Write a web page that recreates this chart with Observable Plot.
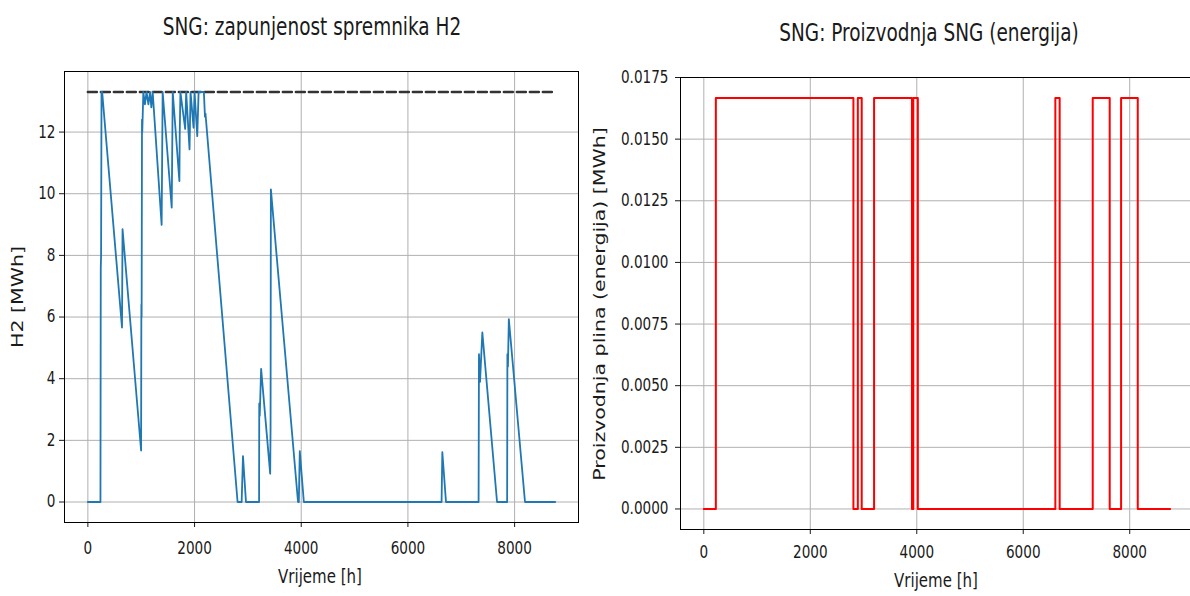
<!DOCTYPE html>
<html><head><meta charset="utf-8">
<script src="https://cdn.jsdelivr.net/npm/d3@7"></script>
<script src="https://cdn.jsdelivr.net/npm/@observablehq/plot@0.6"></script>
<style>
body{margin:0;background:#fff;overflow:hidden;width:1190px;height:596px;position:relative;font-family:"DejaVu Sans",sans-serif;color:#1a1a1a}
.abs{position:absolute;white-space:nowrap;line-height:1}
.t{font-size:24px;transform:translate(-50%,-50%) scaleX(0.77)}
.lab{font-size:20px;transform:translate(-50%,-50%) scaleX(0.75)}
.rot{font-size:20.5px;transform:translate(-50%,-50%) rotate(-90deg) scaleY(0.73)}
</style></head><body>
<div id="left" class="abs" style="left:0;top:0"></div>
<div id="right" class="abs" style="left:590px;top:0"></div>
<div class="abs t" style="left:312px;top:27px">SNG: zapunjenost spremnika H2</div>
<div class="abs t" style="left:929px;top:33px">SNG: Proizvodnja SNG (energija)</div>
<div class="abs lab" style="left:320px;top:576px">Vrijeme [h]</div>
<div class="abs lab" style="left:936px;top:580px">Vrijeme [h]</div>
<div class="abs rot" style="left:18px;top:297px">H2 [MWh]</div>
<div class="abs rot" style="left:600px;top:304px">Proizvodnja plina (energija) [MWh]</div>
<script>
// Left: H2 storage level
const h2Hours  = [0,236,242,248,256,268,640,650,998,1003,1008,1015,1020,1040,1070,1100,1135,1165,1190,1215,1383,1402,1572,1591,1716,1722,1735,1824,1843,1906,1925,1981,2000,2051,2076,2158,2175,2195,2205,2807,2883,2908,2964,3210,3213,3222,3248,3418,3425,3431,3940,3955,3973,4049,6631,6645,6714,7325,7332,7352,7395,7671,7860,7865,7875,7892,8195,8760];
const h2Values = [0,0,7.6,8.0,13.3,13.3,5.66,8.85,1.67,6.4,6.0,12.4,12.0,13.3,12.9,13.3,12.9,13.3,12.8,13.3,8.99,13.3,9.55,13.3,10.41,11.9,13.3,12.1,13.3,11.44,13.3,12.14,13.3,11.87,13.3,13.3,13.3,12.5,12.6,0,0,1.49,0,0,3.2,2.8,4.32,0.92,2.4,10.14,0,0,1.65,0,0,1.62,0,0,4.8,3.9,5.5,0,0,4.8,4.4,5.93,0,0];
const h2Capacity = 13.3;
const capacityHours = [0, 8760];
// Right: SNG production (step series)
const sngHours  = [0,226,2810,2893,2966,3198,3910,3935,4020,6603,6684,7305,7624,7838,8151,8760];
const sngValues = [0,1/60,0,1/60,0,1/60,0,1/60,0,1/60,0,1/60,0,1/60,0,0];
// Ticks
const xTicks = [0,2000,4000,6000,8000];
const yTicksLeft = [0,2,4,6,8,10,12];
const yTicksRight = [0,0.0025,0.005,0.0075,0.01,0.0125,0.015,0.0175];

const h2 = h2Hours.map((h,i)=>({h, v:h2Values[i]}));
const cap = capacityHours.map(h=>({h, v:h2Capacity}));
const sng = sngHours.map((h,i)=>({h, v:sngValues[i]}));
const fontStyle = {fontFamily:'"DejaVu Sans",sans-serif', fontSize:"17px", color:"#1a1a1a", background:"transparent", overflow:"visible", maxWidth:"none"};
const xDomain = [-438, 9198];

const left = Plot.plot({
  width:600, height:596, marginLeft:64, marginRight:22, marginTop:71, marginBottom:74,
  style: fontStyle,
  x:{domain:xDomain, ticks:xTicks, tickSize:5, tickPadding:14, label:null, tickFormat:d3.format("d")},
  y:{domain:[-0.665,13.965], ticks:yTicksLeft, tickSize:5, tickPadding:4, label:null, tickFormat:d3.format("d")},
  marks:[
    Plot.ruleX(xTicks,{stroke:"#b0b0b0", strokeWidth:1}),
    Plot.ruleY(yTicksLeft,{stroke:"#b0b0b0", strokeWidth:1}),
    Plot.line(cap,{x:"h", y:"v", stroke:"#333", strokeWidth:2.5, strokeDasharray:"9,4"}),
    Plot.line(h2,{x:"h", y:"v", stroke:"#1f77b4", strokeWidth:1.8}),
    Plot.frame({stroke:"#000", strokeWidth:1})
  ]
});
document.getElementById("left").appendChild(left);

const right = Plot.plot({
  width:610, height:596, marginLeft:90, marginRight:7, marginTop:77, marginBottom:67,
  style: fontStyle,
  x:{domain:xDomain, ticks:xTicks, tickSize:5, tickPadding:11, label:null, tickFormat:d3.format("d")},
  y:{domain:[-0.000833,0.0175], ticks:yTicksRight, tickSize:5, tickPadding:7, label:null, tickFormat:d3.format(".4f")},
  marks:[
    Plot.ruleX(xTicks,{stroke:"#b0b0b0", strokeWidth:1}),
    Plot.ruleY(yTicksRight,{stroke:"#b0b0b0", strokeWidth:1}),
    Plot.line(sng,{x:"h", y:"v", stroke:"red", strokeWidth:2, curve:"step-after"}),
    Plot.frame({stroke:"#000", strokeWidth:1})
  ]
});
document.getElementById("right").appendChild(right);

// horizontally condense tick labels (reference glyphs are narrow)
function squeeze(svg, f) {
  const NS = "http://www.w3.org/2000/svg";
  Array.from(svg.querySelectorAll("text")).forEach(t => {
    const parent = t.parentNode;
    const r = t.getBoundingClientRect();
    const anchor = getComputedStyle(t).textAnchor;
    const sx = anchor === "end" ? r.right : anchor === "start" ? r.left : (r.left + r.right) / 2;
    const pt = svg.createSVGPoint(); pt.x = sx; pt.y = r.top;
    const p = pt.matrixTransform(parent.getScreenCTM().inverse());
    const g = document.createElementNS(NS, "g");
    g.setAttribute("transform", `translate(${p.x},0) scale(${f},1) translate(${-p.x},0)`);
    parent.insertBefore(g, t); g.appendChild(t);
  });
}
squeeze(left, 0.8);
squeeze(right, 0.8);
</script>
</body></html>
